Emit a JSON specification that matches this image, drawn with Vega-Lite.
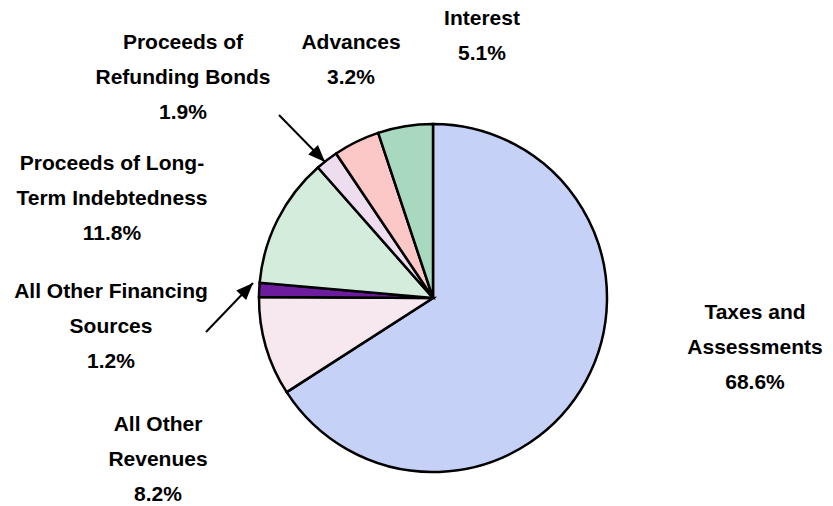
{
  "$schema": "https://vega.github.io/schema/vega-lite/v6.json",
  "width": 833,
  "height": 506,
  "padding": 0,
  "autosize": {"type": "none"},
  "background": "white",
  "config": {"view": {"stroke": null}},
  "datasets": {
    "slices": [
      {"name": "Taxes and Assessments", "caption": "Taxes and\nAssessments", "pct": "68.6%", "share": 65.9, "order": 1, "lx": 755, "ly": 313},
      {"name": "All Other Revenues", "caption": "All Other\nRevenues", "pct": "8.2%", "share": 9.2, "order": 2, "lx": 158, "ly": 425},
      {"name": "All Other Financing Sources", "caption": "All Other Financing\nSources", "pct": "1.2%", "share": 1.3, "order": 3, "lx": 111, "ly": 292},
      {"name": "Proceeds of Long-Term Indebtedness", "caption": "Proceeds of Long-\nTerm Indebtedness", "pct": "11.8%", "share": 12.1, "order": 4, "lx": 112, "ly": 164},
      {"name": "Proceeds of Refunding Bonds", "caption": "Proceeds of\nRefunding Bonds", "pct": "1.9%", "share": 2.1, "order": 5, "lx": 183, "ly": 43},
      {"name": "Advances", "caption": "Advances", "pct": "3.2%", "share": 4.3, "order": 6, "lx": 351, "ly": 43},
      {"name": "Interest", "caption": "Interest", "pct": "5.1%", "share": 5.1, "order": 7, "lx": 482, "ly": 19}
    ],
    "arrows": [
      {"target": "Proceeds of Refunding Bonds", "x": 279, "y": 115, "x2": 325, "y2": 162},
      {"target": "All Other Financing Sources", "x": 206, "y": 332, "x2": 253, "y2": 283}
    ]
  },
  "layer": [
    {
      "data": {"name": "slices"},
      "mark": {"type": "arc", "outerRadius": 174, "stroke": "black", "strokeWidth": 2.5},
      "encoding": {
        "theta": {"field": "share", "type": "quantitative", "stack": true},
        "order": {"field": "order", "type": "quantitative"},
        "color": {
          "field": "name",
          "type": "nominal",
          "legend": null,
          "scale": {
            "domain": ["Taxes and Assessments", "All Other Revenues", "All Other Financing Sources", "Proceeds of Long-Term Indebtedness", "Proceeds of Refunding Bonds", "Advances", "Interest"],
            "range": ["#c6d1f7", "#f7e8ef", "#6e1c9e", "#d3ecdc", "#eedcef", "#fbc7c7", "#a8d8be"]
          }
        },
        "x": {"datum": 433, "type": "quantitative", "scale": {"domain": [0, 833], "nice": false, "zero": false}, "axis": null},
        "y": {"datum": 298, "type": "quantitative", "scale": {"domain": [0, 506], "nice": false, "zero": false, "reverse": true}, "axis": null}
      }
    },
    {
      "data": {"name": "slices"},
      "transform": [{"calculate": "datum.caption + '\\n' + datum.pct", "as": "label"}],
      "mark": {"type": "text", "font": "Liberation Sans", "fontWeight": "bold", "fontSize": 21, "lineHeight": 35, "lineBreak": "\n", "align": "center", "baseline": "middle", "color": "black"},
      "encoding": {
        "x": {"field": "lx", "type": "quantitative"},
        "y": {"field": "ly", "type": "quantitative"},
        "text": {"field": "label", "type": "nominal"}
      }
    },
    {
      "data": {"name": "arrows"},
      "mark": {"type": "rule", "color": "black", "strokeWidth": 2},
      "encoding": {
        "x": {"field": "x", "type": "quantitative"},
        "y": {"field": "y", "type": "quantitative"},
        "x2": {"field": "x2"},
        "y2": {"field": "y2"}
      }
    },
    {
      "data": {"name": "arrows"},
      "transform": [{"calculate": "atan2(datum.x2 - datum.x, datum.y - datum.y2) * 180 / PI", "as": "heading"}],
      "mark": {"type": "point", "shape": "M0,0L-0.8,2L0.8,2Z", "size": 289, "filled": true, "color": "black", "opacity": 1, "strokeWidth": 0},
      "encoding": {
        "x": {"field": "x2", "type": "quantitative"},
        "y": {"field": "y2", "type": "quantitative"},
        "angle": {"field": "heading", "type": "quantitative", "scale": null}
      }
    }
  ]
}
